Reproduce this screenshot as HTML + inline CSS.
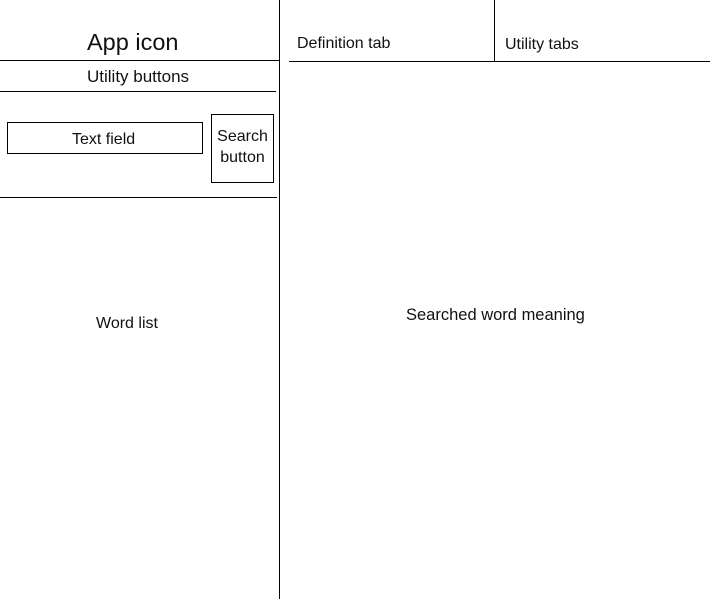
<!DOCTYPE html>
<html><head><style>
body{margin:0;width:710px;height:599px;background:#fff;position:relative;overflow:hidden;font-family:"Liberation Sans",sans-serif;color:#111}
.l{position:absolute;background:#000}
.t{position:absolute;white-space:nowrap}
</style></head><body>
<div class="l" style="left:279px;top:0;width:1px;height:599px"></div>
<div class="l" style="left:494px;top:0;width:1px;height:61px"></div>
<div class="l" style="left:0;top:60px;width:279px;height:1px"></div>
<div class="l" style="left:289px;top:61px;width:421px;height:1px"></div>
<div class="l" style="left:0;top:91px;width:276px;height:1px"></div>
<div class="l" style="left:0;top:197px;width:277px;height:1px"></div>
<div style="position:absolute;left:7px;top:122px;width:194px;height:30px;border:1px solid #000"></div>
<div style="position:absolute;left:211px;top:114px;width:61px;height:67px;border:1px solid #000"></div>
<div class="t" style="left:87px;top:29px;font-size:23.5px">App icon</div>
<div class="t" style="left:297px;top:35px;font-size:16px">Definition tab</div>
<div class="t" style="left:505px;top:36px;font-size:16px">Utility tabs</div>
<div class="t" style="left:87px;top:67px;font-size:17px">Utility buttons</div>
<div class="t" style="left:72px;top:131px;font-size:16px">Text field</div>
<div class="t" style="left:212px;top:126px;width:61px;text-align:center;font-size:16px;line-height:21px">Search<br>button</div>
<div class="t" style="left:96px;top:315px;font-size:16px">Word list</div>
<div class="t" style="left:406px;top:306px;font-size:16.5px">Searched word meaning</div>
</body></html>
